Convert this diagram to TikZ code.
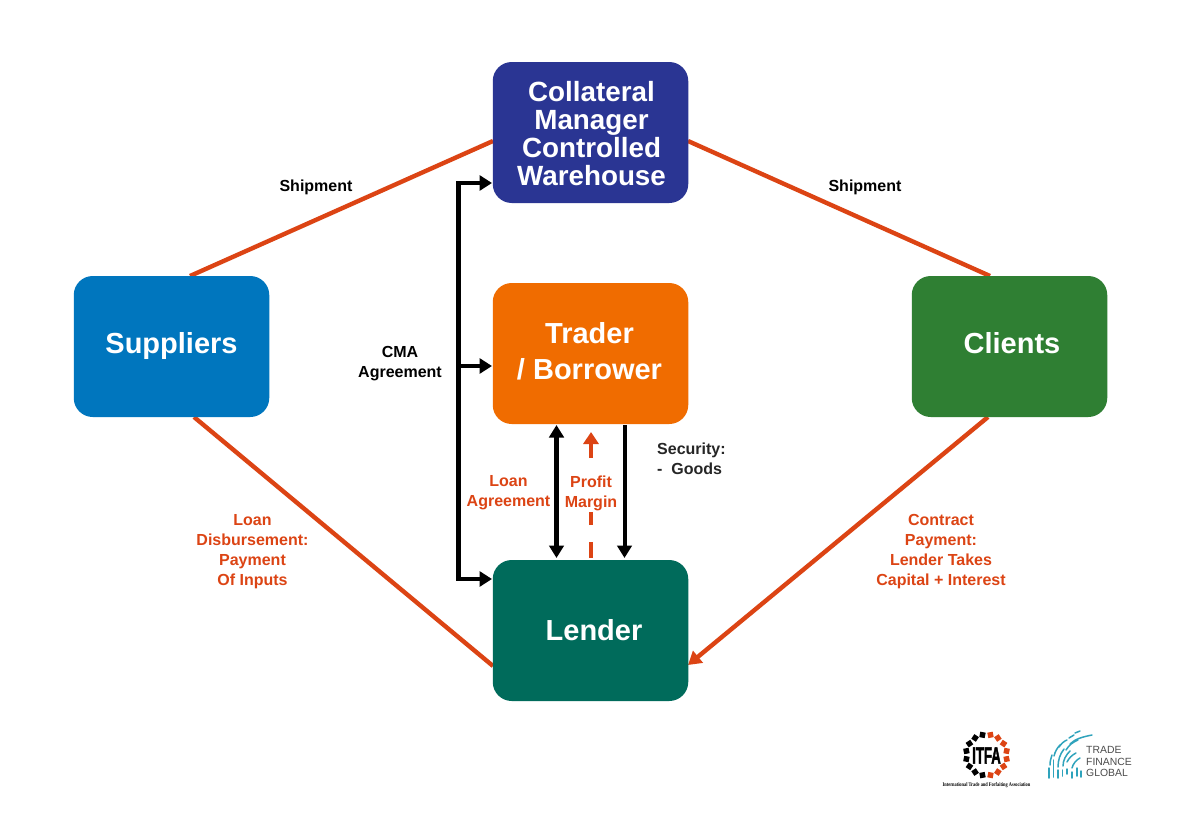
\documentclass[tikz,border=0pt]{standalone}
\usepackage{fontspec}
\setmainfont{Liberation Sans}
\newfontfamily\heavyfont[BoldFont={Liberation Sans},BoldFeatures={FakeBold=2.5},FakeBold=2.5]{Liberation Sans Bold}
\usetikzlibrary{arrows.meta,calc}
\definecolor{cnavy}{HTML}{2A3593}
\definecolor{cblue}{HTML}{0076BE}
\definecolor{corange}{HTML}{F06C00}
\definecolor{cgreen}{HTML}{2F7F33}
\definecolor{cteal}{HTML}{006B5B}
\definecolor{cred}{HTML}{DC4414}
\definecolor{ctfg}{HTML}{2FA3BC}
\tikzset{
  box/.style={draw=none,rounded corners=19pt,minimum width=195.5pt,minimum height=141pt,text=white,inner sep=0pt,align=center},
  flow/.style={draw=cred,line width=4.4pt},
  ctl/.style={draw=black,line width=4.6pt,-{Triangle[width=15pt,length=12.5pt]}},
  lbl/.style={font=\fontsize{16}{20}\selectfont\bfseries,align=center,inner sep=0pt},
  redlbl/.style={lbl,text=cred},
  title/.style={inner sep=0pt,align=center,text=white,font=\fontsize{29}{36}\selectfont\bfseries},
  dot/.style={minimum size=5.5pt,inner sep=0pt,draw=none}
}
\begin{document}
\begin{tikzpicture}[x=1pt,y=-1pt]
\useasboundingbox (0,0) rectangle (1181,827);
\fill[white] (0,0) rectangle (1181,827);
% anchor coordinates for connector ends
\coordinate (s1) at (190,276);
\coordinate (c1) at (493,141);
\coordinate (c2) at (688,141);
\coordinate (k1) at (990,276);
\coordinate (s2) at (194,417);
\coordinate (l1) at (493,666);
\coordinate (k2) at (988,417);
\coordinate (l2) at (688,665);
\draw[flow] (s1) -- (c1);
\draw[flow] (c2) -- (k1);
\draw[flow] (s2) -- (l1);
\draw[flow,-{Triangle[width=15pt,length=13pt]}] (k2) -- (l2);
% boxes
\node[box,fill=cnavy] (coll) at (590.5,132.5) {};
\node[box,fill=corange] (trader) at (590.5,353.5) {};
\node[box,fill=cteal] (lender) at (590.5,630.5) {};
\node[box,fill=cblue] (sup) at (171.5,346.5) {};
\node[box,fill=cgreen] (cli) at (1009.5,346.5) {};
\node[title,font=\fontsize{27.8}{28}\selectfont\bfseries] (tcoll) at (591.5,133.7) {Collateral\\Manager\\Controlled\\Warehouse};
\node[title] (ttrader) at (589.5,351) {Trader\\/ Borrower};
\node[title] (tlender) at (594,630) {Lender};
\node[title] (tsup) at (171.5,346) {Suppliers};
\node[title] (tcli) at (1012,343) {Clients};
% control lines
\coordinate (busA) at (458.5,183);
\coordinate (busB) at (458.5,366);
\coordinate (busC) at (458.5,579);
\coordinate (cT) at (492,183);
\coordinate (tT) at (492,366);
\coordinate (lT) at (492,579);
\draw[ctl] (busA) -- (cT);
\draw[ctl] (busB) -- (tT);
\draw[ctl] (busC) -- (lT);
\draw[draw=black,line width=4.6pt] ($(busA)+(-2.3,0)$) -- (busA) -- (busC) -- ($(busC)+(-2.3,0)$);
\coordinate (t1) at (556.5,425);
\coordinate (l3) at (556.5,558);
\draw[draw=black,line width=4.6pt,{Triangle[width=14.5pt,length=12.5pt]}-{Triangle[width=14.5pt,length=12.5pt]}] (t1) -- (l3);
\coordinate (t2) at (624.5,425);
\coordinate (l4) at (624.5,558);
\draw[draw=black,line width=4pt,-{Triangle[width=14.5pt,length=12.5pt]}] (t2) -- (l4);
\coordinate (l5) at (591,558);
\coordinate (t3) at (591,432);
\draw[draw=cred,line width=4.4pt,dash pattern=on 16pt off 17pt on 13pt off 54pt on 30pt,-{Triangle[width=15pt,length=12pt]}] (l5) -- (t3);
% labels
\node[lbl] (ship1) at (316,187) {Shipment};
\node[lbl] (ship2) at (865,187) {Shipment};
\node[lbl] (cma) at (400,363.5) {CMA\\Agreement};
\node[lbl,text=black!85,align=left,anchor=west] (sec) at (657,459) {Security:\\-\ \ Goods};
\node[redlbl] (la) at (508.5,493) {Loan\\Agreement};
\node[redlbl] (pm) at (591,493) {Profit\\Margin};
\node[redlbl] (ld) at (252.5,551.5) {Loan\\Disbursement:\\Payment\\Of Inputs};
\node[redlbl] (cp) at (941,551.5) {Contract\\Payment:\\Lender Takes\\Capital + Interest};
% ITFA logo
\coordinate (itfa) at (986.5,755);
\foreach \a in {-78.75,-56.25,-33.75,-11.25,11.25,33.75,56.25,78.75}
  \node[dot,fill=cred,rotate=\a] at ($(itfa)+(\a:20.5)$) {};
\foreach \a in {101.25,123.75,146.25,168.75,191.25,213.75,236.25,258.75}
  \node[dot,fill=black,rotate=\a] at ($(itfa)+(\a:20.5)$) {};
\node[inner sep=0pt,font=\heavyfont\fontsize{23.5}{23}\selectfont,xscale=.56] (itfat) at (986.5,755.5) {ITFA};
\node[inner sep=0pt,font=\fontsize{5.6}{6}\selectfont\bfseries,xscale=.78] (itfac) at (986.5,785) {\fontspec{Liberation Serif}International Trade and Forfaiting Association};
% TFG logo
\begin{scope}[ctfg,line width=1.5pt,line cap=round]
\draw (1049,778) -- (1049,768);
\draw (1050,765) .. controls (1050,761) and (1051,758) .. (1052,755);
\draw (1053.5,777) -- (1053.5,760);
\draw (1054,756) .. controls (1055,752) and (1057,748) .. (1060,745);
\draw (1058,778) -- (1058,770);
\draw (1058,767) .. controls (1058,760) and (1060,754) .. (1064,749);
\draw (1062.5,776) -- (1062.5,770);
\draw (1063,766) .. controls (1063,760) and (1066,755) .. (1070,751);
\draw (1067,774) -- (1067,769);
\draw (1067,762) .. controls (1069,758) and (1072,755) .. (1076,753);
\draw (1072,778) -- (1072,772);
\draw (1072,768) .. controls (1073,764) and (1076,760) .. (1080,758);
\draw (1077,776) -- (1077,768);
\draw (1081,777) -- (1081,771);
\draw (1059,747) .. controls (1061,744) and (1064,741) .. (1067,740);
\draw (1066,750) .. controls (1069,745) and (1073,742) .. (1078,740);
\draw (1070,744) .. controls (1075,739) and (1082,737) .. (1092,735);
\draw (1069,738) -- (1074,735);
\draw (1075,733) -- (1080,731);
\end{scope}
\node[inner sep=0pt,align=left,anchor=west,text=black!70,font=\fontsize{10.4}{11.5}\selectfont] (tfg) at (1086,761.5) {TRADE\\FINANCE\\GLOBAL};
\end{tikzpicture}
\end{document}
